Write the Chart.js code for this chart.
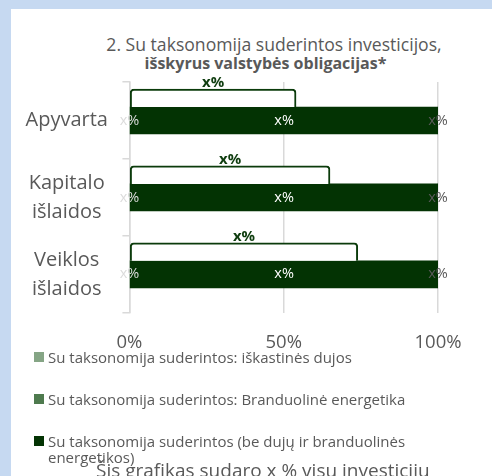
<!DOCTYPE html>
<html lang="lt">
<head>
<meta charset="UTF-8">
<title>Su taksonomija suderintos investicijos</title>
<script src="https://cdn.jsdelivr.net/npm/chart.js"></script>
<style>
    html, body { margin: 0; padding: 0; width: 492px; height: 476px; overflow: hidden; background: #c6d9f1; }
    .panel { position: absolute; left: 11px; top: 9px; width: 500px; height: 480px; background: #ffffff; }
    .title { position: absolute; left: 0; text-align: center; font-family: "Open Sans", sans-serif; line-height: 20px; color: #595959; white-space: nowrap; }
    .t1 { top: 34px; width: 548px; font-size: 17.6px; }
    .t2 { top: 53px; width: 531px; font-size: 16px; font-weight: bold; }
    #taxChart { position: absolute; left: 11px; top: 9px; }
    #legend { position: absolute; left: 34px; top: 349px; width: 390px; font-family: "Open Sans", sans-serif; font-size: 15px; color: #595959; }
    .item { display: flex; align-items: flex-start; line-height: 16px; margin-bottom: 26px; }
    .swatch { flex: 0 0 10px; height: 10px; margin-top: 3px; margin-right: 4px; }
    .note { position: absolute; left: 96px; top: 460px; font-family: "Open Sans", sans-serif; font-size: 19px; line-height: 20px; color: #595959; white-space: nowrap; }
</style>
</head>
<body>
<div class="panel"></div>
<div class="title t1">2. Su taksonomija suderintos investicijos,</div>
<div class="title t2">išskyrus valstybės obligacijas*</div>
<canvas id="taxChart" width="481" height="364"></canvas>
<div id="legend"></div>
<div class="note">Šis grafikas sudaro x % visų investicijų</div>

<script>
// kategorijos ir reikšmės
const categories = ['Apyvarta', ['Kapitalo', 'išlaidos'], ['Veiklos', 'išlaidos']];
const bracketValues = [54, 65, 74];      // laužtinis skliaustas virš juostos
const gasValues = [0, 0, 0];             // iškastinės dujos
const nuclearValues = [0, 0, 0];         // branduolinė energetika
const otherValues = [100, 100, 100];     // be dujų ir branduolinės energetikos
const xTicks = [0, 50, 100];
const valueLabel = 'x%';

const seriesNames = [
    'Su taksonomija suderintos: iškastinės dujos',
    'Su taksonomija suderintos: Branduolinė energetika',
    'Su taksonomija suderintos (be dujų ir branduolinės energetikos)'
];
const seriesColors = ['#85a585', '#4e7a4e', '#033303'];

const FONT = '"Open Sans", sans-serif';
const GREY = '#595959';

// legenda (HTML)
const legend = document.getElementById('legend');
seriesNames.forEach((name, i) => {
    const row = document.createElement('div');
    row.className = 'item';
    row.innerHTML = `<span class="swatch" style="background:${seriesColors[i]}"></span><span>${name}</span>`;
    legend.appendChild(row);
});

// užrašai ant juostų
const labelPlugin = {
    id: 'barLabels',
    afterDatasetsDraw(chart) {
        const ctx = chart.ctx;
        ctx.save();
        ctx.textAlign = 'center';
        chart.data.datasets.forEach((ds, di) => {
            if (!ds.labelColor) return;
            const meta = chart.getDatasetMeta(di);
            meta.data.forEach(bar => {
                const p = bar.getProps(['x', 'y', 'base', 'height'], true);
                ctx.fillStyle = ds.labelColor;
                if (ds.isBracket) {
                    ctx.font = 'bold 15px ' + FONT;
                    ctx.textBaseline = 'bottom';
                    ctx.fillText(valueLabel, (p.x + p.base) / 2, p.y - p.height / 2 + 1);
                } else {
                    ctx.font = '14.5px ' + FONT;
                    ctx.textBaseline = 'middle';
                    ctx.fillText(valueLabel, (p.x + p.base) / 2, p.y);
                }
            });
        });
        ctx.restore();
    }
};

new Chart(document.getElementById('taxChart'), {
    type: 'bar',
    data: {
        labels: categories,
        datasets: [
            {
                label: 'skliaustas',
                data: bracketValues,
                stack: 'bracket',
                backgroundColor: '#ffffff',
                borderColor: '#0b3b0b',
                borderWidth: 2,
                borderSkipped: 'bottom',
                borderRadius: 4,
                barThickness: 22.5,
                maxBarThickness: 18,
                labelColor: '#0f3d0f',
                isBracket: true
            },
            {
                label: seriesNames[0],
                data: gasValues,
                stack: 'main',
                backgroundColor: seriesColors[0],
                barThickness: 27,
                labelColor: '#dcdcdc'
            },
            {
                label: seriesNames[2],
                data: otherValues,
                stack: 'main',
                backgroundColor: seriesColors[2],
                barThickness: 27,
                labelColor: '#ffffff'
            },
            {
                label: seriesNames[1],
                data: nuclearValues,
                stack: 'main',
                backgroundColor: seriesColors[1],
                barThickness: 27,
                labelColor: GREY
            },
            {
                // tuščias rinkinys, kad pagrindinė juosta liktų kategorijos viduryje
                label: '',
                data: [],
                stack: 'spacer',
                barThickness: 27
            }
        ]
    },
    options: {
        indexAxis: 'y',
        responsive: false,
        animation: false,
        layout: { padding: { left: 0, right: 54, top: 73, bottom: 0 } },
        plugins: {
            legend: { display: false },
            tooltip: { enabled: false }
        },
        scales: {
            x: {
                stacked: true,
                min: 0,
                max: 100,
                afterBuildTicks: axis => { axis.ticks = xTicks.map(v => ({ value: v })); },
                ticks: {
                    color: GREY,
                    padding: 19,
                    font: { family: FONT, size: 18.5 },
                    callback: v => v + '%'
                },
                grid: { color: '#d9d9d9', lineWidth: 1.5, drawTicks: false },
                border: { display: false }
            },
            y: {
                stacked: true,
                ticks: {
                    color: GREY,
                    padding: 14.5,
                    crossAlign: 'center',
                    font: { family: FONT, size: 20, lineHeight: 1.45 }
                },
                grid: { drawOnChartArea: false, drawTicks: true, tickLength: 7, color: '#d9d9d9', lineWidth: 1.5 },
                border: { display: true, color: '#d9d9d9', width: 1.5 }
            }
        }
    },
    plugins: [labelPlugin]
});
</script>
</body>
</html>
